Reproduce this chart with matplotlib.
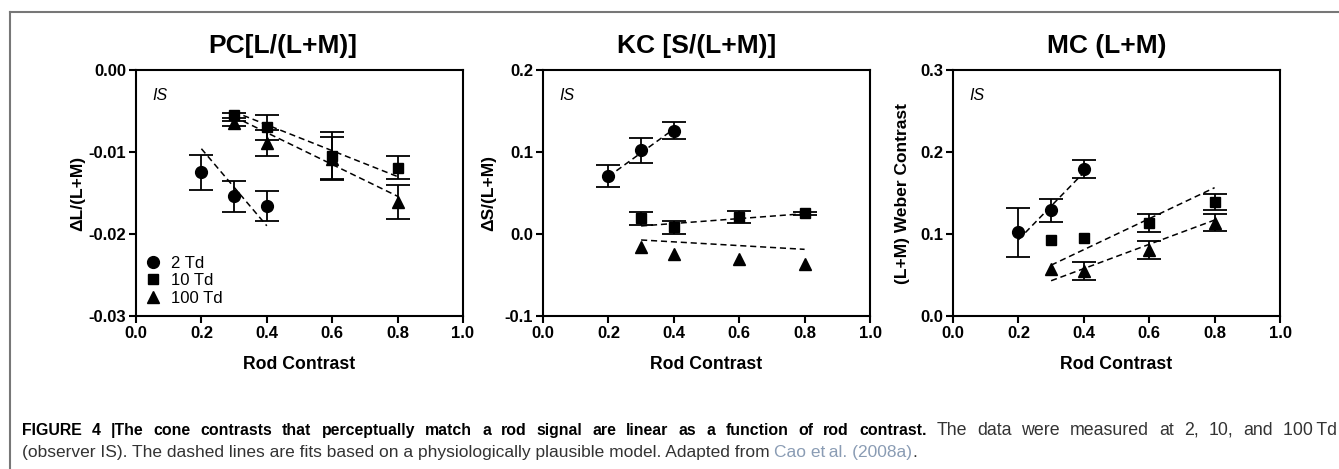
import numpy as np
import matplotlib
matplotlib.use("Agg")
import matplotlib.pyplot as plt
from matplotlib.lines import Line2D

plt.rcParams['font.family'] = ['Liberation Sans', 'DejaVu Sans']

# rod contrast levels
x_2td = [0.2, 0.3, 0.4]
x_hi = [0.3, 0.4, 0.6, 0.8]
fit_x_2td = [0.2, 0.4]
fit_x_hi = [0.3, 0.8]

# PC [L/(L+M)]
pc_2td = [-0.0125, -0.0154, -0.0166]
pc_2td_err = [0.0021, 0.0019, 0.0018]
pc_10td = [-0.0055, -0.0070, -0.01045, -0.0119]
pc_10td_err = [0.0003, 0.0015, 0.0029, 0.0014]
pc_100td = [-0.0065, -0.0089, -0.0108, -0.0161]
pc_100td_err = [0.0003, 0.0016, 0.0026, 0.0021]
pc_fit_2td = [-0.0096, -0.0190]
pc_fit_10td = [-0.0051, -0.0130]
pc_fit_100td = [-0.0057, -0.0154]

# KC [S/(L+M)]
kc_2td = [0.071, 0.102, 0.126]
kc_2td_err = [0.0135, 0.015, 0.010]
kc_10td = [0.019, 0.008, 0.021, 0.025]
kc_10td_err = [0.008, 0.008, 0.007, 0.002]
kc_100td = [-0.016, -0.025, -0.030, -0.037]
kc_100td_err = [0, 0, 0, 0]
kc_fit_2td = [0.070, 0.128]
kc_fit_10td = [0.0098, 0.0248]
kc_fit_100td = [-0.0073, -0.0187]

# MC (L+M)
mc_2td = [0.102, 0.129, 0.179]
mc_2td_err = [0.030, 0.014, 0.011]
mc_10td = [0.093, 0.095, 0.113, 0.139]
mc_10td_err = [0, 0, 0.011, 0.0095]
mc_100td = [0.057, 0.055, 0.080, 0.114]
mc_100td_err = [0, 0.011, 0.011, 0.010]
mc_fit_2td = [0.093, 0.175]
mc_fit_10td = [0.062, 0.1565]
mc_fit_100td = [0.043, 0.117]

panels = [
    dict(title="PC[L/(L+M)]", ylabel="\u0394L/(L+M)", ylim=(-0.03, 0.0),
         yticks=[-0.03, -0.02, -0.01, 0.0], yfmt="{:.2f}",
         d2=pc_2td, e2=pc_2td_err, d10=pc_10td, e10=pc_10td_err,
         d100=pc_100td, e100=pc_100td_err,
         f2=pc_fit_2td, f10=pc_fit_10td, f100=pc_fit_100td,
         left=136, ylab=-0.155, title_x=0.45, legend=True),
    dict(title="KC [S/(L+M)]", ylabel="\u0394S/(L+M)", ylim=(-0.1, 0.2),
         yticks=[-0.1, 0.0, 0.1, 0.2], yfmt="{:.1f}",
         d2=kc_2td, e2=kc_2td_err, d10=kc_10td, e10=kc_10td_err,
         d100=kc_100td, e100=kc_100td_err,
         f2=kc_fit_2td, f10=kc_fit_10td, f100=kc_fit_100td,
         left=543, ylab=-0.143, title_x=0.47, legend=False),
    dict(title="MC (L+M)", ylabel="(L+M) Weber Contrast", ylim=(0.0, 0.3),
         yticks=[0.0, 0.1, 0.2, 0.3], yfmt="{:.1f}",
         d2=mc_2td, e2=mc_2td_err, d10=mc_10td, e10=mc_10td_err,
         d100=mc_100td, e100=mc_100td_err,
         f2=mc_fit_2td, f10=mc_fit_10td, f100=mc_fit_100td,
         left=953, ylab=-0.13, title_x=0.47, legend=False),
]

W, H = 1339, 469
fig = plt.figure(figsize=(W / 100, H / 100), dpi=100)

# outer frame (top and left edges only)
fig.add_artist(Line2D([10 / W, 1.0], [1 - 12 / H, 1 - 12 / H], color="#777777", lw=1.5))
fig.add_artist(Line2D([10 / W, 10 / W], [0.0, 1 - 12 / H], color="#777777", lw=1.5))

ax_w, ax_h = 327 / W, 246 / H
ax_b = 1 - 316 / H
markers = [("o", 8.5), ("s", 6.8), ("^", 8.0)]


def series(ax, xs, ys, errs, marker, ms):
    xs, ys, errs = np.array(xs), np.array(ys), np.array(errs)
    m = errs > 0
    if m.any():
        ax.errorbar(xs[m], ys[m], yerr=errs[m], fmt="none", ecolor="black",
                    elinewidth=1.3, capsize=8.5, capthick=1.3)
    ax.plot(xs, ys, marker=marker, ms=ms, color="black", linestyle="none")


for p in panels:
    ax = fig.add_axes([p["left"] / W, ax_b, ax_w, ax_h])
    series(ax, x_2td, p["d2"], p["e2"], *markers[0])
    series(ax, x_hi, p["d10"], p["e10"], *markers[1])
    series(ax, x_hi, p["d100"], p["e100"], *markers[2])
    for fx, fy in [(fit_x_2td, p["f2"]), (fit_x_hi, p["f10"]), (fit_x_hi, p["f100"])]:
        ax.plot(fx, fy, color="black", lw=1.1, linestyle=(0, (4, 2.5)))

    ax.set_xlim(0, 1)
    ax.set_ylim(*p["ylim"])
    ax.set_xticks([0.0, 0.2, 0.4, 0.6, 0.8, 1.0])
    ax.set_xticklabels(["{:.1f}".format(v) for v in [0.0, 0.2, 0.4, 0.6, 0.8, 1.0]])
    ax.set_yticks(p["yticks"])
    ax.set_yticklabels([p["yfmt"].format(v) for v in p["yticks"]])
    ax.tick_params(direction="out", length=5, width=1.5, labelsize=12, pad=2)
    for lab in ax.get_xticklabels() + ax.get_yticklabels():
        lab.set_fontweight("bold")
    for s in ax.spines.values():
        s.set_linewidth(1.5)

    ax.set_ylabel(p["ylabel"], fontsize=12.5, fontweight="bold")
    ax.yaxis.set_label_coords(p["ylab"], 0.5)
    ax.set_xlabel("Rod Contrast", fontsize=12.7, fontweight="bold", labelpad=11)
    ax.set_title(p["title"], fontsize=19, fontweight="bold", pad=12, x=p["title_x"])
    ax.text(0.05, 0.88, "IS", transform=ax.transAxes, fontsize=11.5, style="italic")

    if p["legend"]:
        handles = [Line2D([], [], marker=mk, ms=ms, color="black", linestyle="none")
                   for mk, ms in markers]
        ax.legend(handles, ["2 Td", "10 Td", "100 Td"], loc="lower left", frameon=False,
                  fontsize=12, handletextpad=0.5, labelspacing=0.15, borderaxespad=0.0,
                  handlelength=1.2, bbox_to_anchor=(0.0, 0.015))

# caption, pieced together so bold / regular / link colour can mix on a line
fig.canvas.draw()
renderer = fig.canvas.get_renderer()
txt_col = "#333333"
link_col = "#8a9cb4"


def put(x_px, y_px, s, **kw):
    t = fig.text(x_px / W, 1 - y_px / H, s, va="center", ha="left", **kw)
    return t.get_window_extent(renderer).width


# first caption line is justified: words spread evenly from 22 px to 1337 px
bold_kw = dict(fontweight="bold", fontsize=11.4, color="black")
reg_kw = dict(fontsize=12.8, color=txt_col)
bold_part = "FIGURE 4 |The cone contrasts that perceptually match a rod signal are linear as a function of rod contrast."
reg_part = "The data were measured at 2, 10, and 100\u2009Td"
words = [(w, bold_kw) for w in bold_part.split(" ")] + [(w, reg_kw) for w in reg_part.split(" ")]
probe = [fig.text(0, 0, w, **kw) for w, kw in words]
widths = [t.get_window_extent(renderer).width for t in probe]
for t in probe:
    t.remove()
gap = (1337 - 22 - sum(widths)) / (len(words) - 1)
x = 22
for (w, kw), wd in zip(words, widths):
    put(x, 430, w, **kw)
    x += wd + gap

x = 22
x += put(x, 452, "(observer IS). The dashed lines are fits based on a physiologically plausible model. Adapted from ",
         fontsize=12.5, color=txt_col)
x += put(x, 452, "Cao et\u2009al. (2008a)", fontsize=12.5, color=link_col)
put(x, 452, ".", fontsize=12.5, color=txt_col)

fig.savefig("out.png", dpi=100)
